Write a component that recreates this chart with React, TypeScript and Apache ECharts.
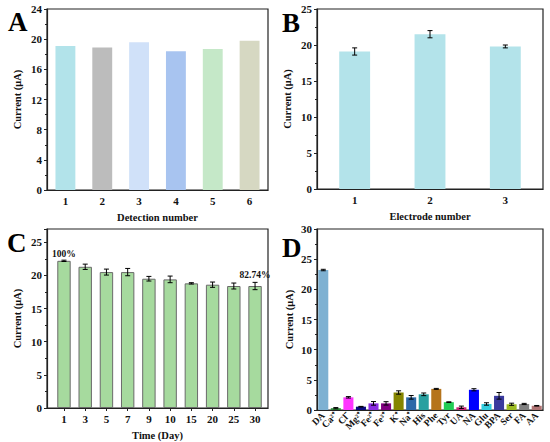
import React, { useEffect, useRef } from "react";
import * as echarts from "echarts";

const catsA = ["1", "2", "3", "4", "5", "6"];
const valsA = [19.1, 18.9, 19.6, 18.4, 18.7, 19.8];
const colorsA = ["#b2e3ea", "#bcbcbc", "#d0e1f9", "#a8c4f0", "#c5e8c8", "#d6d8c2"];

const catsB = ["1", "2", "3"];
const valsB = [19.1, 21.5, 19.8];
const errB = [0.5, 0.5, 0.2];

const catsC = ["1", "3", "5", "7", "9", "10", "15", "20", "25", "30"];
const valsC = [22.2, 21.3, 20.5, 20.5, 19.5, 19.4, 18.8, 18.6, 18.4, 18.4];
const errC = [0.1, 0.4, 0.45, 0.55, 0.35, 0.5, 0.1, 0.4, 0.45, 0.55];
const tickIdxC = [0, 1, 2, 3, 4, 5, 6, 7, 8, 9];

const catsD = ["DA", "Ca²⁺", "Cl⁻", "Mg²⁺", "Fe²⁺", "Fe³⁺", "K⁺", "Na⁺", "His", "Phe", "Tyr", "UA", "NA", "Glu", "BPA", "Ser", "FA", "AA"];
const valsD = [23.2, 0.3, 2.1, 0.55, 1.1, 1.1, 2.9, 2.1, 2.6, 3.5, 1.3, 0.45, 3.35, 1.0, 2.35, 0.95, 1.0, 0.7];
const errD = [0.12, 0.1, 0.12, 0.05, 0.3, 0.28, 0.28, 0.3, 0.22, 0.08, 0.06, 0.2, 0.18, 0.2, 0.55, 0.18, 0.1, 0.05];
const colorsD = ["#7eb1d2", "#2e8b3a", "#ff33ff", "#0a0a80", "#8a2be2", "#800080", "#858500", "#2d68a8", "#28a0a0", "#b5741c", "#22cc55", "#cc2277", "#0000ff", "#33ccdd", "#3a3a9e", "#9cbb22", "#808080", "#b07474"];

const FONT = "Liberation Serif";

function errSeries(xi: number, yi: number, vals: number[], errs: number[]) {
  return {
    type: "custom",
    xAxisIndex: xi,
    yAxisIndex: yi,
    silent: true,
    z: 5,
    data: vals.map((v, i) => [i, v - errs[i], v + errs[i]]),
    encode: { x: 0, y: [1, 2] },
    renderItem: (params: any, api: any) => {
      const x = api.value(0);
      const lo = api.coord([x, api.value(1)]);
      const hi = api.coord([x, api.value(2)]);
      const w = 2.5;
      const st = { stroke: "#000", lineWidth: 1 };
      return {
        type: "group",
        children: [
          { type: "line", shape: { x1: lo[0], y1: lo[1], x2: hi[0], y2: hi[1] }, style: st },
          { type: "line", shape: { x1: lo[0] - w, y1: lo[1], x2: lo[0] + w, y2: lo[1] }, style: st },
          { type: "line", shape: { x1: hi[0] - w, y1: hi[1], x2: hi[0] + w, y2: hi[1] }, style: st },
        ],
      };
    },
  };
}

const nameStyle = { fontFamily: FONT, fontWeight: "bold", fontSize: 10.5, color: "#111" };
const labStyle = { fontFamily: FONT, fontWeight: "bold", fontSize: 11, color: "#111", margin: 5 };

function xAx(gi: number, cats: string[], name: string) {
  return {
    type: "category",
    gridIndex: gi,
    data: cats,
    name,
    nameLocation: "middle",
    nameGap: 22,
    nameTextStyle: nameStyle,
    axisLine: { lineStyle: { color: "#222", width: 1.2 } },
    axisTick: { alignWithLabel: true, length: 3, lineStyle: { color: "#222" } },
    axisLabel: { ...labStyle },
  };
}

function yAx(gi: number, max: number, interval: number, gap: number, showMax = true) {
  return {
    type: "value",
    gridIndex: gi,
    min: 0,
    max,
    interval,
    name: "Current (μA)",
    nameLocation: "middle",
    nameGap: gap,
    nameTextStyle: nameStyle,
    axisLine: { show: true, onZero: false, lineStyle: { color: "#222", width: 1.2 } },
    axisTick: { show: true, length: 3, lineStyle: { color: "#222" } },
    minorTick: { show: true, splitNumber: 2, length: 2, lineStyle: { color: "#222" } },
    splitLine: { show: false },
    axisLabel: { ...labStyle, showMaxLabel: showMax },
  };
}

export default function App() {
  const ref = useRef<HTMLDivElement>(null);
  useEffect(() => {
    if (!ref.current) return;
    const chart = echarts.init(ref.current, undefined, { renderer: "svg" });
    const gridBase = { show: true, borderColor: "#222", borderWidth: 1.2, backgroundColor: "transparent" };
    const letter = (t: string, x: number, y: number) => ({
      type: "text",
      x,
      y,
      style: { text: t, font: `bold 27px ${FONT}`, fill: "#000", textAlign: "left", textVerticalAlign: "middle" },
      z: 10,
    });
    const pctLabel = (txt: string, dist: number) => ({
      show: true,
      position: "top",
      distance: dist,
      formatter: txt,
      fontFamily: FONT,
      fontWeight: "bold",
      fontSize: 9.5,
      color: "#111",
    });
    chart.setOption({
      animation: false,
      grid: [
        { ...gridBase, left: 47, top: 9, width: 221, height: 181 },
        { ...gridBase, left: 317, top: 9, width: 226, height: 180 },
        { ...gridBase, left: 47, top: 229, width: 221, height: 181 },
        { ...gridBase, left: 317, top: 229, width: 226, height: 181 },
      ],
      xAxis: [
        xAx(0, catsA, "Detection number"),
        xAx(1, catsB, "Electrode number"),
        {
          type: "value",
          gridIndex: 2,
          min: -0.8,
          max: 9.61,
          name: "Time (Day)",
          nameLocation: "middle",
          nameGap: 22,
          nameTextStyle: nameStyle,
          splitLine: { show: false },
          axisLine: { onZero: false, lineStyle: { color: "#222", width: 1.2 } },
          axisTick: { show: true, length: 3, lineStyle: { color: "#222" }, customValues: tickIdxC },
          axisLabel: { ...labStyle, customValues: tickIdxC, formatter: (v: number) => catsC[Math.round(v)] ?? "" },
        },
        {
          ...xAx(3, catsD, ""),
          axisLabel: { fontFamily: FONT, fontWeight: "bold", fontSize: 9.5, color: "#111", margin: 4, rotate: 45, interval: 0 },
        },
      ],
      yAxis: [yAx(0, 24, 4, 24), yAx(1, 25, 5, 24), yAx(2, 27, 5, 24, false), yAx(3, 30, 5, 22)],
      series: [
        {
          type: "bar",
          xAxisIndex: 0,
          yAxisIndex: 0,
          barWidth: "54%",
          data: valsA.map((v, i) => ({ value: v, itemStyle: { color: colorsA[i] } })),
        },
        {
          type: "bar",
          xAxisIndex: 1,
          yAxisIndex: 1,
          barWidth: "41%",
          itemStyle: { color: "#b3e3ea" },
          data: valsB,
        },
        errSeries(1, 1, valsB, errB),
        {
          type: "bar",
          xAxisIndex: 2,
          yAxisIndex: 2,
          barWidth: 13.4,
          itemStyle: { color: "#a6da9e", borderColor: "#6a6a6a", borderWidth: 1 },
          data: valsC.map((v, i) => {
            if (i === 0) return { value: [i, v], label: pctLabel("100%", 2) };
            if (i === valsC.length - 1) return { value: [i, v], label: pctLabel("82.74%", 6) };
            return { value: [i, v] };
          }),
        },
        errSeries(2, 2, valsC, errC),
        {
          type: "bar",
          xAxisIndex: 3,
          yAxisIndex: 3,
          barWidth: "80%",
          data: valsD.map((v, i) => ({ value: v, itemStyle: { color: colorsD[i] } })),
        },
        errSeries(3, 3, valsD, errD),
      ],
      graphic: [letter("A", 8, 22), letter("B", 282, 22.5), letter("C", 7, 242.5), letter("D", 282, 247.5)],
    });
    return () => chart.dispose();
  }, []);
  return <div ref={ref} style={{ position: "absolute", left: 0, top: 0, width: 550, height: 442, background: "#fff" }} />;
}
